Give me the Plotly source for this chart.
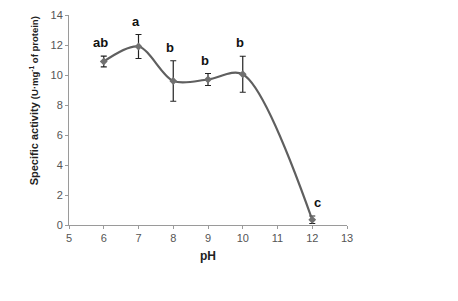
import plotly.graph_objects as go

ph = [6, 7, 8, 9, 10, 12]
activity = [10.9, 11.9, 9.6, 9.7, 10.05, 0.35]
error = [0.36, 0.8, 1.35, 0.4, 1.2, 0.25]
letters = ["ab", "a", "b", "b", "b", "c"]

x_ticks = list(range(5, 14))
y_ticks = list(range(0, 15, 2))

fig = go.Figure()
fig.add_trace(go.Scatter(
    x=ph, y=activity,
    mode="lines+markers",
    line=dict(color="#5f5f5f", width=2.2, shape="spline", smoothing=0.9),
    marker=dict(symbol="diamond", size=6, color="#707070"),
    error_y=dict(type="data", array=error, visible=True, color="#222222", thickness=1.2, width=3),
    showlegend=False,
))

letter_font = dict(family="Liberation Sans Narrow, Arial Narrow, Liberation Sans, Arial", size=13, color="#111111")
for i, (x, y, e, t) in enumerate(zip(ph, activity, error, letters)):
    fig.add_annotation(x=x, y=y + e, xref="x", yref="y", text="<b>" + t + "</b>", showarrow=False,
                       yanchor="bottom", yshift=4, xshift=(5 if t == "c" else -3),
                       font=letter_font)

# y-axis title as a rotated annotation
fig.add_annotation(
    x=-0.125, y=0.59, xref="paper", yref="paper", xanchor="center", yanchor="middle",
    text="<b>Specific activity <span style='font-size:9.5px'>(U·mg<sup>-1</sup> of protein)</span></b>",
    textangle=-90, showarrow=False,
    font=dict(family="Liberation Sans, Arial", size=11, color="#222222"),
)

# page body adds an 8px offset; the figure is sized/margined to compensate
fig.update_layout(
    width=450, height=293,
    margin=dict(l=61, r=111, t=7, b=76, autoexpand=False),
    paper_bgcolor="white", plot_bgcolor="white",
    font=dict(family="Liberation Sans, Arial", size=11, color="#555555"),
    xaxis=dict(range=[5, 13], tickvals=x_ticks, showgrid=False, zeroline=False,
               showline=True, linecolor="#9a9a9a", linewidth=1, automargin=False,
               ticks="outside", ticklen=3, tickcolor="#9a9a9a", ticklabeloverflow="allow",
               title=dict(text="<b>pH</b>", font=dict(size=12, color="#222222"), standoff=8)),
    yaxis=dict(range=[0, 14], tickvals=y_ticks, showgrid=False, zeroline=False,
               showline=True, linecolor="#9a9a9a", linewidth=1, automargin=False,
               ticks="outside", ticklen=3, tickcolor="#9a9a9a", ticklabeloverflow="allow"),
)

fig.write_html("out.html")
